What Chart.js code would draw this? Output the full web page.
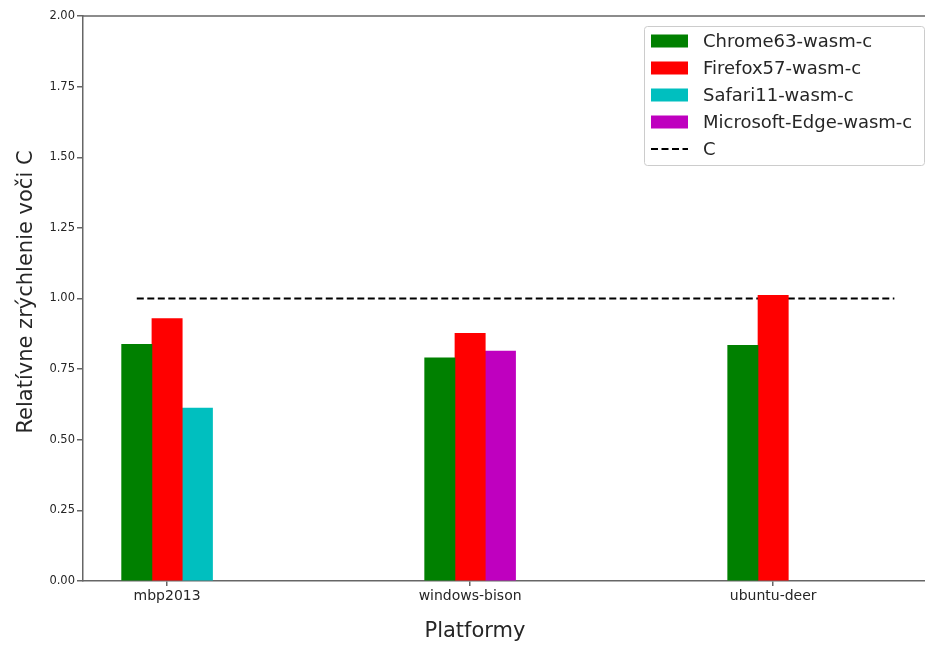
<!DOCTYPE html>
<html>
<head>
<meta charset="utf-8">
<script src="https://cdn.jsdelivr.net/npm/chart.js@4/dist/chart.umd.min.js"></script>
<style>
  html, body { margin: 0; padding: 0; background: #fff; overflow: hidden; }
  #wrap { width: 933px; height: 646px; }
</style>
</head>
<body>
<div id="wrap"><canvas id="speedChart" width="933" height="646"></canvas></div>
<script>
const platforms = ['mbp2013', 'windows-bison', 'ubuntu-deer'];
const chrome63 = [0.838, 0.790, 0.834];
const firefox57 = [0.929, 0.877, 1.011];
const safari11 = [0.612, null, null];
const edge = [null, 0.814, null];
const baseline = 1.0;
const yTicks = [0, 0.25, 0.5, 0.75, 1.0, 1.25, 1.5, 1.75, 2.0];
const xTitle = 'Platformy';
const yTitle = 'Relatívne zrýchlenie voči C';

const axisColor = '#666';
const textColor = '#262626';

// bar slot inside a platform group (matplotlib-like offsets, width 0.1)
function bars(values, slot) {
    return values
        .map((v, i) => ({x: i + slot * 0.1, y: v}))
        .filter(p => p.y !== null);
}

const datasets = [
    {label: 'Chrome63-wasm-c', type: 'bar', backgroundColor: '#008000', data: bars(chrome63, 0)},
    {label: 'Firefox57-wasm-c', type: 'bar', backgroundColor: '#ff0000', data: bars(firefox57, 1)},
    {label: 'Safari11-wasm-c', type: 'bar', backgroundColor: '#00bfbf', data: bars(safari11, 2)},
    {label: 'Microsoft-Edge-wasm-c', type: 'bar', backgroundColor: '#bf00bf', data: bars(edge, 2)},
    {
        label: 'C', type: 'line', borderColor: '#000', borderWidth: 2, borderDash: [7, 3.5],
        pointRadius: 0, data: [{x: 0, y: baseline}, {x: platforms.length - 0.5, y: baseline}]
    }
];
datasets.forEach(d => {
    if (d.type === 'bar') {
        d.grouped = false;
        d.barPercentage = 1;
        d.categoryPercentage = 1;
        d.borderWidth = 0;
    }
});

// legend inside the plot (upper right), axis titles and top spine
const boxLegend = {
    id: 'boxLegend',
    afterDraw(chart) {
        const ctx = chart.ctx;
        const area = chart.chartArea;
        const w = 280, h = 139;
        const x0 = area.right - 9 - w, y0 = area.top + 10;
        ctx.save();
        ctx.fillStyle = 'rgba(255,255,255,0.8)';
        ctx.strokeStyle = '#cccccc';
        ctx.lineWidth = 1;
        ctx.beginPath();
        ctx.roundRect(x0 + 0.5, y0 + 0.5, w, h, 3);
        ctx.fill();
        ctx.stroke();
        ctx.font = '18px "DejaVu Sans"';
        ctx.textBaseline = 'middle';
        chart.data.datasets.forEach((d, i) => {
            const cy = y0 + 15 + i * 27;
            if (d.type === 'line') {
                ctx.strokeStyle = d.borderColor;
                ctx.lineWidth = d.borderWidth;
                ctx.setLineDash(d.borderDash);
                ctx.beginPath();
                ctx.moveTo(x0 + 7, cy);
                ctx.lineTo(x0 + 44, cy);
                ctx.stroke();
                ctx.setLineDash([]);
            } else {
                ctx.fillStyle = d.backgroundColor;
                ctx.fillRect(x0 + 7, cy - 6.5, 37, 13);
            }
            ctx.fillStyle = textColor;
            ctx.fillText(d.label, x0 + 59, cy + 1);
        });

        // axis titles
        ctx.font = '21px "DejaVu Sans"';
        ctx.textAlign = 'center';
        ctx.textBaseline = 'alphabetic';
        ctx.fillText(xTitle, area.left + 392, 637);
        ctx.translate(32, 292);
        ctx.rotate(-Math.PI / 2);
        ctx.fillText(yTitle, 0, 0);
        ctx.setTransform(1, 0, 0, 1, 0, 0);

        // top spine
        ctx.strokeStyle = axisColor;
        ctx.lineWidth = 1.5;
        ctx.beginPath();
        ctx.moveTo(area.left, area.top);
        ctx.lineTo(area.right, area.top);
        ctx.stroke();
        ctx.restore();
    }
};

new Chart(document.getElementById('speedChart'), {
    data: {datasets: datasets},
    plugins: [boxLegend],
    options: {
        responsive: false,
        animation: false,
        layout: {padding: {top: 16, left: 0, right: 0, bottom: 0}},
        plugins: {legend: {display: false}, tooltip: {enabled: false}},
        scales: {
            x: {
                type: 'linear',
                offset: false,
                min: -0.1775,
                max: 2.6275,
                afterBuildTicks: scale => { scale.ticks = platforms.map((p, i) => ({value: i + 0.1})); },
                afterFit: scale => { scale.height = 65; },
                grid: {drawOnChartArea: false, offset: false, tickLength: 5, color: axisColor, lineWidth: 1.5},
                border: {color: axisColor, width: 1.5},
                ticks: {
                    color: textColor, padding: 2, maxRotation: 0, autoSkip: false,
                    font: {family: 'DejaVu Sans', size: 14},
                    callback: (v, i) => platforms[i]
                }
            },
            y: {
                min: 0,
                max: 2,
                afterBuildTicks: scale => { scale.ticks = yTicks.map(v => ({value: v})); },
                afterFit: scale => { scale.width = 83; },
                grid: {drawOnChartArea: false, tickLength: 6, color: axisColor, lineWidth: 1.5},
                border: {color: axisColor, width: 1.5},
                ticks: {
                    color: textColor, padding: 2,
                    font: {family: 'DejaVu Sans', size: 11.5},
                    callback: v => v.toFixed(2)
                }
            }
        }
    }
});
</script>
</body>
</html>
